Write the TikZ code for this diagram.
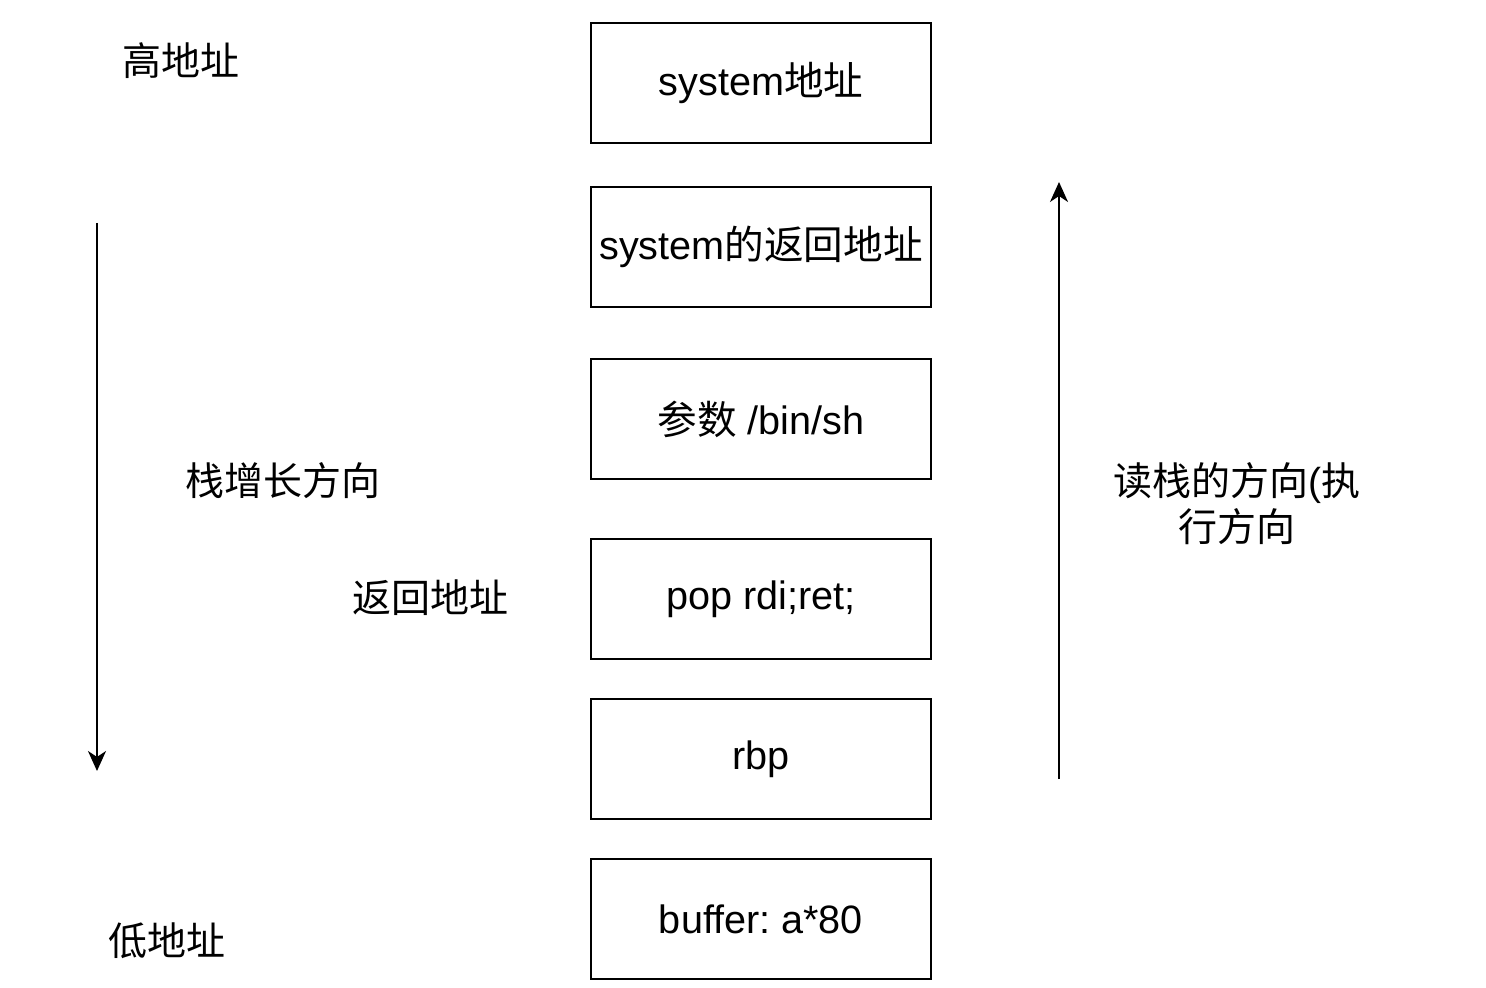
\documentclass[tikz,border=0pt]{standalone}
\usepackage{fontspec}
\setmainfont{Liberation Sans}
\newfontfamily\cjk{Noto Sans CJK SC}
\usetikzlibrary{arrows.meta}
\frenchspacing
\begin{document}
\begin{tikzpicture}[x=0.5pt,y=-0.5pt,
  cell/.style={draw=black,line width=1pt,minimum width=170pt,minimum height=60pt,inner sep=0pt,font=\fontsize{19.8pt}{23pt}\selectfont},
  lbl/.style={inner sep=0pt,font=\fontsize{19.5pt}{23pt}\selectfont\cjk,align=center},
  arr/.style={line width=1pt,-{Stealth[length=10pt,width=9pt,inset=3pt]}}]
\useasboundingbox[fill=white] (0,0) rectangle (1486,988);
\node[cell] (b1) at (761,83) {system{\cjk 地址}};
\node[cell] (b2) at (761,247) {system{\cjk 的返回地址}};
\node[cell] (b3) at (761,419) {{\cjk 参数} /bin/sh};
\node[cell] (b4) at (761,599) {pop rdi;ret;};
\node[cell] (b5) at (761,759) {rbp};
\node[cell] (b6) at (761,919) {buffer: a*80};
\node[lbl] (hi) at (181,61) {高地址};
\node[lbl] (grow) at (283,481) {栈增长方向};
\node[lbl] (ret) at (430,598) {返回地址};
\node[lbl] (lo) at (167,941) {低地址};
\node[lbl] (read) at (1237,504) {读栈的方向{\fontspec{Liberation Sans}(}执\\行方向};
\coordinate (l1) at (97,223);
\coordinate (l2) at (97,771);
\coordinate (r1) at (1059,779);
\coordinate (r2) at (1059,182);
\draw[arr] (l1) -- (l2);
\draw[arr] (r1) -- (r2);
\end{tikzpicture}
\end{document}
